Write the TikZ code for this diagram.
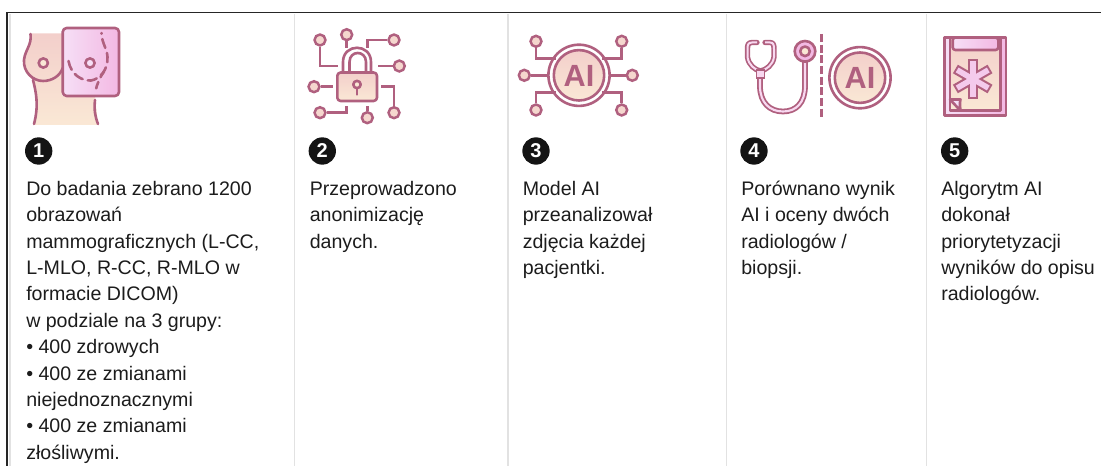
\documentclass[tikz,border=0pt]{standalone}
\usepackage{fontspec}
\setmainfont{Liberation Sans}
\definecolor{ln}{HTML}{B0607F}
\definecolor{pA}{HTML}{F3CFCB}
\definecolor{pB}{HTML}{FAE8D5}
\definecolor{mA}{HTML}{F6DFF6}
\definecolor{mB}{HTML}{F3B8E3}
\definecolor{gr}{HTML}{E2E2E2}
\definecolor{tx}{HTML}{1C1C1C}
\tikzset{
  ic/.style={draw=ln,line width=1.95pt,line join=round},
  wire/.style={draw=ln,line width=1.85pt},
  peach/.style={left color=pA,right color=pB,shading angle=0},
  mauve/.style={left color=mA,right color=mB},
  term/.style={circle,draw=ln,line width=1.85pt,fill=pA!70!pB,minimum size=8.2pt,inner sep=0pt},
  num/.style={circle,fill=black!92,text=white,minimum size=20.5pt,inner sep=0pt,font=\fontsize{15}{16}\selectfont\bfseries},
  body/.style={anchor=north west,inner sep=0pt,align=left,text=tx,font=\fontsize{14.7}{19.8}\selectfont},
  sep/.style={draw=gr,line width=1.1pt},
  aitext/.style={text=ln,inner sep=0pt,font=\fontsize{23}{24}\selectfont\bfseries}
}
\begin{document}
\begin{tikzpicture}[x=0.75pt,y=-0.75pt]
\useasboundingbox (0,0) rectangle (1101,466);
% frame
\draw[sep] (10,14) -- (10,466);
\draw[sep] (294.5,14) -- (294.5,466);
\draw[sep] (508,14) -- (508,466);
\draw[sep] (726.5,14) -- (726.5,466);
\draw[sep] (926.5,14) -- (926.5,466);
\draw[black!85,line width=1.3pt] (7,466) -- (7,12.5) -- (1101,12.5);
% icon 1
\path[peach] (30.5,33.5) -- (62,33.5) -- (62,96) -- (95,96) -- (98,125) -- (34,125) -- (37,103) -- (33,80)
  .. controls (26,75) and (23,68) .. (24,60) .. controls (25,50) and (32,45) .. (30.5,33.5) -- cycle;
\draw[ic,line cap=round] (30.5,34) .. controls (32,45) and (25,50) .. (24,60)
  .. controls (23,72) and (33,81) .. (43,81) .. controls (52,81) and (60,76) .. (62.7,68);
\draw[ic,line cap=round] (33,80) .. controls (36,92) and (39,105) .. (34,124);
\draw[ic,line cap=round] (95,100) .. controls (94,110) and (95,116) .. (98,124);
\draw[ic,mauve,rounded corners=3pt] (62.7,28) rectangle (119,96);
\draw[ic,fill=pB] (43.3,63) circle (4.6);
\draw[ic,fill=mA] (90,63) circle (4.6);
\draw[ic,dash pattern=on 7pt off 4pt,line cap=round] (68.5,61) .. controls (71,75) and (82,81) .. (91,80.5)
  .. controls (100,79) and (108,70) .. (107.5,57) .. controls (107,48) and (102,44) .. (101.5,33);
\draw[ic,dash pattern=on 5pt off 4pt,line cap=round] (104,71.5) .. controls (100,77) and (97,84) .. (95.5,91);
% icon 2
\draw[ic,fill=white] (343,73) -- (343,62) .. controls (343,43) and (371,43) .. (371,62) -- (371,73);
\draw[ic] (349.5,73) -- (349.5,62) .. controls (349.5,50) and (366,50) .. (366,62) -- (366,73);
\draw[ic,peach,rounded corners=2.5pt] (337.3,72.5) rectangle (377,101);
\draw[ic,line cap=round] (357,89) -- (357,94.5);
\draw[ic,fill=pB] (357,84.5) circle (3.7);
\node[term] (a1) at (320,40) {};
\node[term] (a2) at (346.7,34.7) {};
\node[term] (a3) at (394,40) {};
\node[term] (a4) at (399.3,66) {};
\node[term] (a5) at (314,86.7) {};
\node[term] (a6) at (320,112.7) {};
\node[term] (a7) at (367.3,117.7) {};
\node[term] (a8) at (394,112.7) {};
\coordinate (b1) at (337.5,66);
\coordinate (b2) at (346.7,48.5);
\coordinate (b3) at (367.3,48.5);
\coordinate (b4) at (377.5,66);
\coordinate (b5) at (333,86.7);
\coordinate (b6) at (346.7,106);
\coordinate (b7) at (367.3,106);
\coordinate (b8) at (381,86.7);
\draw[wire] (a1) |- (b1);
\draw[wire] (a2) -- (b2);
\draw[wire] (a3) -| (b3);
\draw[wire] (a4) -- (b4);
\draw[wire] (a5) -- (b5);
\draw[wire] (a6) -| (b6);
\draw[wire] (a7) -- (b7);
\draw[wire] (a8) |- (b8);
% icon 3
\draw[ic,fill=white] (579,75.3) circle (30.6);
\draw[ic,peach] (579,75.3) circle (25.2);
\node[aitext] (ai3) at (579,75.8) {AI};
\node[term] (c1) at (536,41.3) {};
\node[term] (c2) at (621.7,41.3) {};
\node[term] (c3) at (524.3,75.3) {};
\node[term] (c4) at (632.3,75.3) {};
\node[term] (c5) at (536,110) {};
\node[term] (c6) at (621.7,110) {};
\coordinate (d1) at (556,58.7);
\coordinate (d2) at (602,58.7);
\coordinate (d3) at (548.4,75.3);
\coordinate (d4) at (609.6,75.3);
\coordinate (d5) at (556,92.3);
\coordinate (d6) at (602,92.3);
\draw[wire] (c1) |- (d1);
\draw[wire] (c2) |- (d2);
\draw[wire] (c3) -- (d3);
\draw[wire] (c4) -- (d4);
\draw[wire] (c5) |- (d5);
\draw[wire] (c6) |- (d6);
% icon 4
\def\tube{(760,74) -- (760,86) .. controls (760,103) and (770,111.5) .. (783,111.5) .. controls (796,111.5) and (805,103) .. (805,86) -- (805,55)}
\def\arms{(757,42.5) -- (752,42.5) .. controls (748,42.5) and (747.5,45) .. (747.5,49) -- (747.5,57) .. controls (748.5,65) and (755,70) .. (760.5,71) .. controls (766,70) and (773,65) .. (774,57) -- (774,49) .. controls (774,45) and (773.5,42.5) .. (770,42.5) -- (765,42.5)}
\draw[draw=ln,line width=4.3pt] \tube;
\draw[draw=mB!55!white,line width=1.6pt] \tube;
\draw[ic,fill=mB] (805,51.3) circle (10.3);
\draw[ic,fill=pB] (805,51.3) circle (4.8);
\draw[draw=ln,line width=4pt,line cap=round,line join=round] \arms;
\draw[draw=mB!55!white,line width=1.5pt,line join=round] \arms;
\draw[draw=ln,fill=mB!55!white,line width=1.4pt] (756.5,70) rectangle (764.5,78);
\draw[draw=ln,line width=2.1pt,dash pattern=on 6pt off 2pt] (821.7,34) -- (821.7,118);
\draw[ic,fill=white] (860,77.7) circle (30.6);
\draw[ic,peach] (860,77.7) circle (25.2);
\node[aitext] (ai4) at (860,78.2) {AI};
% icon 5
\draw[ic,mauve] (944.3,37.5) rectangle (1006,115.5);
\draw[ic,peach] (949.8,38) rectangle (1000.5,110.7);
\draw[ic,mauve,rounded corners=2pt] (952.7,37.5) -- (952.7,50) -- (998.3,50) -- (998.3,37.5) -- cycle;
\draw[draw=ln,line width=1.95pt] (944.3,37.5) -- (1006,37.5);
\draw[ic,fill=mA] (950,99.5) -- (960.5,99.5) .. controls (959.5,103) and (960,107) .. (960.5,110.7) -- cycle;
\foreach \a in {90,30,150}{
  \draw[draw=ln,line width=7.4pt] (972.7,79) ++(\a:20) -- ++(\a:-40);
}
\foreach \a in {90,30,150}{
  \draw[draw=mB!55!mA,line width=4.2pt,shorten >=1.5pt,shorten <=1.5pt] (972.7,79) ++(\a:20) -- ++(\a:-40);
}
% numbers
\node[num] (n1) at (38.7,151) {1};
\node[num] (n2) at (322.3,151) {2};
\node[num] (n3) at (536,151) {3};
\node[num] (n4) at (754,151) {4};
\node[num] (n5) at (954.7,151) {5};
% texts
\node[body] (t1) at (26,176.5) {\strut Do badania zebrano 1200\\obrazowań\\mammograficznych (L-CC,\\L-MLO, R-CC, R-MLO w\\formacie DICOM)\\w podziale na 3 grupy:\\• 400 zdrowych\\• 400 ze zmianami\\niejednoznacznymi\\• 400 ze zmianami\\złośliwymi.};
\node[body] (t2) at (309.5,176.5) {\strut Przeprowadzono\\anonimizację\\danych.};
\node[body] (t3) at (522.5,176.5) {\strut Model AI\\przeanalizował\\zdjęcia każdej\\pacjentki.};
\node[body] (t4) at (741,176.5) {\strut Porównano wynik\\AI i oceny dwóch\\radiologów /\\biopsji.};
\node[body] (t5) at (941,176.5) {\strut Algorytm AI\\dokonał\\priorytetyzacji\\wyników do opisu\\radiologów.};
\end{tikzpicture}
\end{document}
